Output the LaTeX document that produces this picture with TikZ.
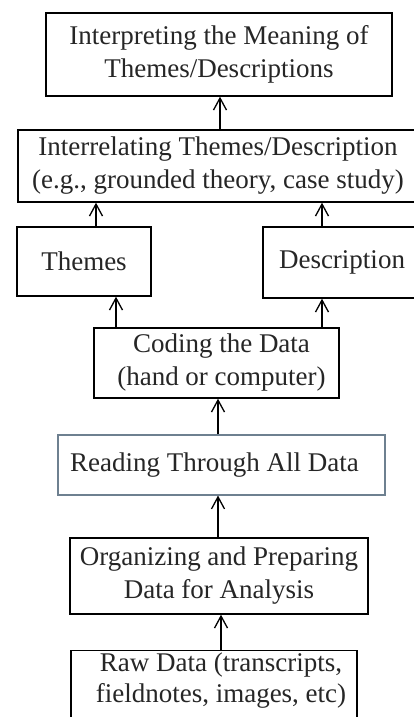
\documentclass[tikz,border=0pt]{standalone}
\usepackage{fontspec}
\setmainfont{Liberation Serif}
\usetikzlibrary{arrows.meta}
\definecolor{boxgray}{HTML}{6E8090}
\tikzset{
  box/.style={draw=black, line width=1.4pt, rectangle, inner sep=0pt, align=center,
     font=\fontsize{27}{33}\selectfont, text=black!85},
  flow/.style={line width=1.3pt, -{Straight Barb[length=12pt,width=13pt,line width=1.3pt]}}
}
\begin{document}
\begin{tikzpicture}[x=1pt,y=-1pt]
\useasboundingbox (0,0) rectangle (414,717);
\fill[white] (0,0) rectangle (414,717);
% boxes: centre, width, height
\node[box, minimum width=346pt, minimum height=83pt] (interp) at (219,54.5)
  {Interpreting the Meaning of\\Themes/Descriptions};
\node[box, minimum width=400pt, minimum height=72pt] (inter) at (218,166)
  {Interrelating Themes/Description\\(e.g., grounded theory, case study)};
\node[box, minimum width=134pt, minimum height=69pt] (themes) at (84,261.5) {Themes};
\node[box, minimum width=158pt, minimum height=71pt] (desc) at (342,262.5) {Description};
\node[box, minimum width=245pt, minimum height=70pt] (coding) at (216.5,363)
  {\hspace*{10pt}Coding the Data\\\hspace*{10pt}(hand or computer)};
\node[box, draw=boxgray, line width=1.1pt, minimum width=327pt, minimum height=60pt] (reading) at (221.5,465)
  {Reading Through All Data\hspace*{14pt}};
\node[box, minimum width=298pt, minimum height=76pt] (organ) at (219,576)
  {Organizing and Preparing\\Data for Analysis};
\node[box, minimum width=286pt, inner ysep=2pt, anchor=north,
      font=\fontsize{27}{31}\selectfont] (raw) at (214,650)
  {\hspace*{14pt}Raw Data (transcripts,\\\hspace*{14pt}fieldnotes, images, etc)\\[20pt]};
% connectors
\draw[flow] (raw.north -| 221,0) -- (organ.south -| 221,0);
\draw[flow] (organ.north -| 218,0) -- (reading.south -| 218,0);
\draw[flow] (reading.north -| 218,0) -- (coding.south -| 218,0);
\draw[flow] (coding.north -| 116,0) -- (themes.south -| 116,0);
\draw[flow] (coding.north -| 322,0) -- (desc.south -| 322,0);
\draw[flow] (themes.north -| 96,0) -- (inter.south -| 96,0);
\draw[flow] (desc.north -| 322,0) -- (inter.south -| 322,0);
\draw[flow] (inter.north -| 220,0) -- (interp.south -| 220,0);
\end{tikzpicture}
\end{document}
